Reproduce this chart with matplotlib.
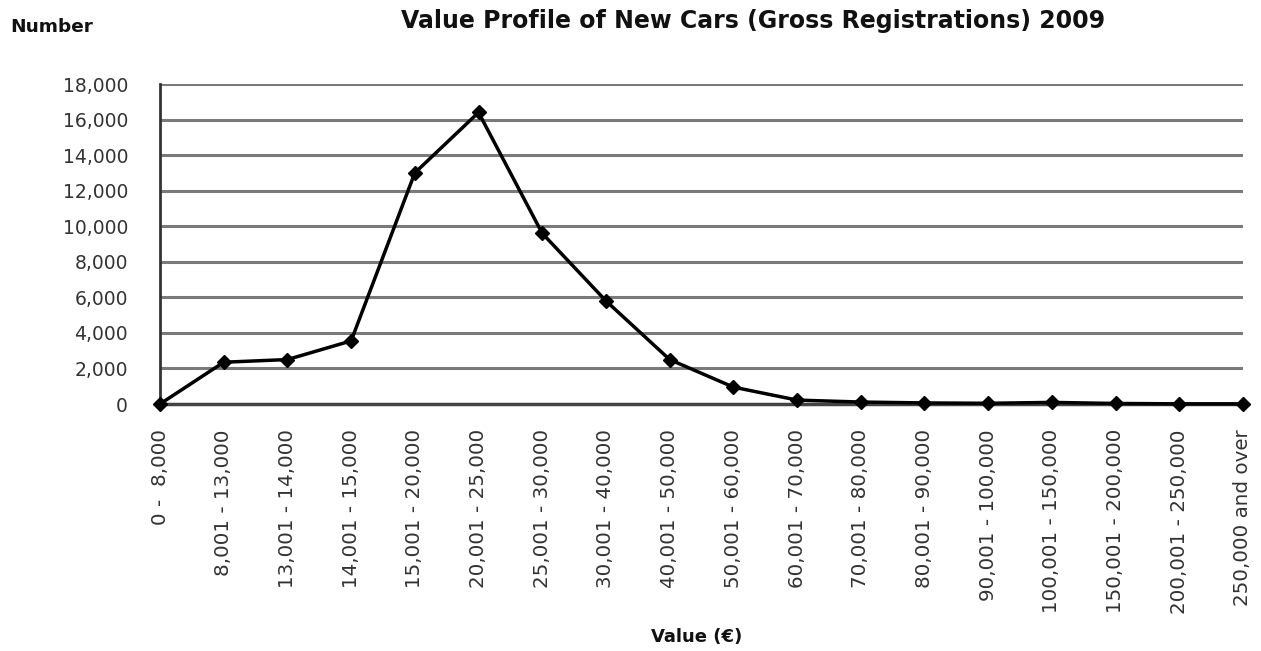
import matplotlib
matplotlib.use("Agg")
import matplotlib.pyplot as plt
from matplotlib.ticker import FuncFormatter

plt.rcParams['font.family'] = ['DejaVu Sans']

categories = ["0 -  8,000", "8,001 - 13,000", "13,001 - 14,000", "14,001 - 15,000",
              "15,001 - 20,000", "20,001 - 25,000", "25,001 - 30,000", "30,001 - 40,000",
              "40,001 - 50,000", "50,001 - 60,000", "60,001 - 70,000", "70,001 - 80,000",
              "80,001 - 90,000", "90,001 - 100,000", "100,001 - 150,000",
              "150,001 - 200,000", "200,001 - 250,000", "250,000 and over"]
values = [0, 2350, 2500, 3550, 13000, 16400, 9600, 5800, 2500, 950, 220, 110,
          60, 40, 90, 30, 10, 10]
y_ticks = list(range(0, 18001, 2000))

fig = plt.figure(figsize=(12.61, 6.51), dpi=100)
ax = fig.add_axes([160/1261, 1-404/651, (1243-160)/1261, (404-84)/651])

x = list(range(len(categories)))
ax.plot(x, values, color='black', lw=2.5, marker='D', markersize=7.5, zorder=5, clip_on=False)

ax.set_xlim(0, len(categories)-1)
ax.set_ylim(0, 18000)
ax.set_yticks(y_ticks)
ax.yaxis.set_major_formatter(FuncFormatter(lambda v, p: f"{int(v):,}"))
ax.set_xticks(x)
ax.set_xticklabels(categories, rotation=90, fontsize=14.3, color='#333333')
ax.tick_params(axis='y', labelsize=13.5, length=0, pad=23, labelcolor='#333333')
ax.tick_params(axis='x', length=0, pad=18)
ax.grid(axis='y', color='#7a7a7a', lw=2.2)
ax.set_axisbelow(True)
for s in ['top', 'right']:
    ax.spines[s].set_visible(False)
ax.spines['left'].set_color('#333333')
ax.spines['left'].set_linewidth(2)
ax.spines['bottom'].set_color('#444444')
ax.spines['bottom'].set_linewidth(2.5)

fig.text(753/1261, 1-21/651, "Value Profile of New Cars (Gross Registrations) 2009",
         ha='center', va='center', fontsize=17, fontweight='bold', color='#111111')
fig.text(10/1261, 1-27/651, "Number", ha='left', va='center', fontsize=13.3,
         fontweight='bold', color='#111111')
fig.text(697/1261, 1-637/651, "Value (€)", ha='center', va='center', fontsize=13,
         fontweight='bold', color='#111111')

fig.savefig("out.png", dpi=100)
